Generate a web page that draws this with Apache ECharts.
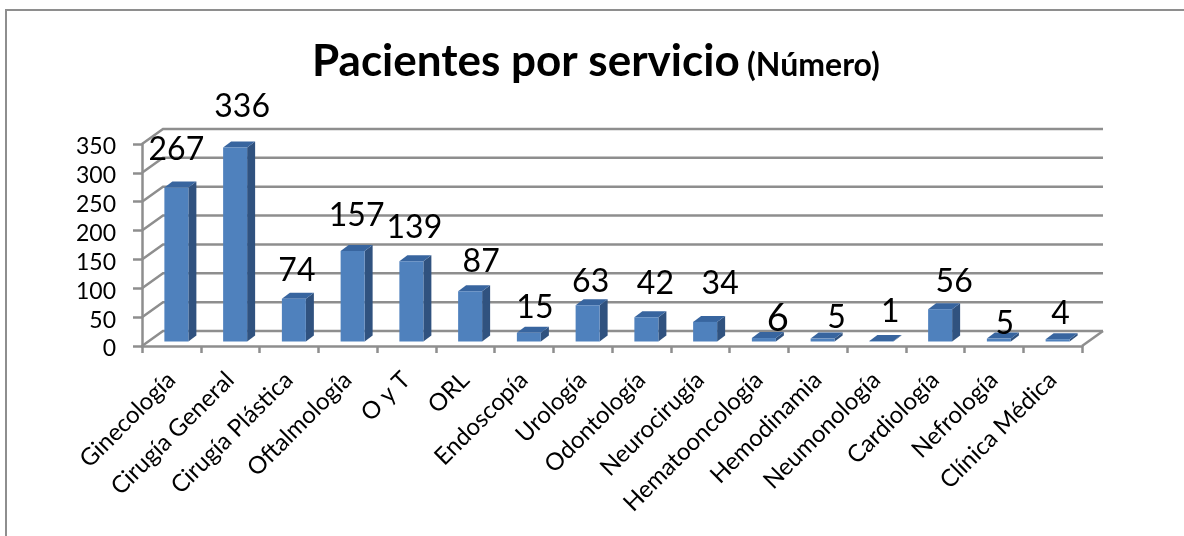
<!DOCTYPE html>
<html><head><meta charset="utf-8">
<style>html,body{margin:0;padding:0;background:#fff}#c{width:1184px;height:536px}</style>
<script src="https://cdn.jsdelivr.net/npm/echarts@6/dist/echarts.min.js"></script>
</head><body><div id="c"></div>
<script>
const categories = ['Ginecología','Cirugía General','Cirugía Plástica','Oftalmología','O y T','ORL','Endoscopía','Urología','Odontología','Neurocirugía','Hematooncología','Hemodinamia','Neumonología','Cardiología','Nefrología','Clínica Médica'];
const patients = [267,336,74,157,139,87,15,63,42,34,6,5,1,56,5,4];
const yTicks = [0,50,100,150,200,250,300,350];
const labelNudge = [[0,-11],[7,-14],[3,-1],[4,-8],[3,-7],[11,-3],[6,2],[3,4],[9,-7],[15,-11],[14,8],[14,6],[9,-2],[14,0],[6,12],[3,1]];
const labelSizes = [32,32,32,32,32,32,32,32,32,32,38,32,32,32,32,32];

const depthX = 21, depthY = -15;      // wall depth
const barShiftX = 5, barShiftY = -4.5; // bar sits inside the floor
const barDX = 8, barDY = -6, barW = 24;
const gray = '#8e8e8e';
const lineW = 2.5;

const chart = echarts.init(document.getElementById('c'), null, {renderer:'canvas'});
chart.setOption({
  animation:false,
  backgroundColor:'#fff',
  textStyle:{fontFamily:'Lato'},
  title:{
    left:312, top:40, padding:0,
    text:'{a|Pacientes por servicio} {b|(Número)}',
    textStyle:{rich:{
      a:{fontFamily:'Lato',fontWeight:'bold',fontSize:44,color:'#000'},
      b:{fontFamily:'Lato',fontWeight:'bold',fontSize:32,color:'#000',padding:[8,0,0,3]}
    }}
  },
  grid:{left:142,top:144,width:940,height:202},
  xAxis:{
    type:'category',data:categories,
    axisLine:{lineStyle:{color:gray,width:lineW}},
    axisTick:{show:true,length:7,lineStyle:{color:gray,width:lineW}},
    axisLabel:{rotate:45,interval:0,fontFamily:'Lato',fontSize:24,color:'#000',margin:30}
  },
  yAxis:{
    type:'value',min:0,max:350,interval:50,
    axisLine:{show:true,lineStyle:{color:gray,width:lineW}},
    axisTick:{show:true,length:9,lineStyle:{color:gray,width:lineW}},
    splitLine:{show:false},
    axisLabel:{fontFamily:'Lato',fontSize:23,color:'#000',margin:26,verticalAlign:'top',lineHeight:6}
  },
  graphic:[{type:'polyline',shape:{points:[[6,540],[6,10],[1190,10]]},style:{fill:'none',stroke:gray,lineWidth:2},silent:true,z:-10}],
  series:[
    {
      type:'custom',coordinateSystem:'cartesian2d',silent:true,z:1,clip:false,
      data:yTicks.map(v=>[0,v]),
      encode:{x:0,y:1},
      renderItem(params,api){
        const v=api.value(1);
        const p=api.coord([0,v]);
        const cs=params.coordSys;
        const x0=cs.x, xr=cs.x+cs.width, y=p[1];
        const style={stroke:gray,lineWidth:lineW,fill:'none'};
        const pts=[[xr+depthX,y+depthY],[x0+depthX,y+depthY],[x0,y]];
        const children=[{type:'polyline',shape:{points:pts},style}];
        if(v===0) children.push({type:'line',shape:{x1:xr,y1:y,x2:xr+depthX,y2:y+depthY},style});
        return {type:'group',children};
      }
    },
    {
      type:'custom',coordinateSystem:'cartesian2d',silent:true,z:3,clip:false,
      data:patients.map((v,i)=>[i,v]),
      encode:{x:0,y:1},
      renderItem(params,api){
        const i=api.value(0), v=api.value(1);
        const base=api.coord([i,0]), top=api.coord([i,v]);
        const l=base[0]+barShiftX-barW/2, r=l+barW;
        const b=base[1]+barShiftY, t=top[1]+barShiftY;
        const dx=barDX, dy=barDY;
        const n=labelNudge[i];
        return {type:'group',children:[
          {type:'polygon',shape:{points:[[r,b],[r+dx,b+dy],[r+dx,t+dy],[r,t]]},style:{fill:'#30527f'}},
          {type:'polygon',shape:{points:[[l,t],[r,t],[r+dx,t+dy],[l+dx,t+dy]]},style:{fill:'#38659f'}},
          {type:'rect',shape:{x:l,y:t,width:barW,height:b-t},style:{fill:'#4f81bd'}},
          {type:'text',z2:10,style:{x:base[0]+barShiftX+n[0],y:t-27+n[1],text:String(v),fontFamily:'Lato',fontSize:labelSizes[i],fill:'#000',align:'center',verticalAlign:'middle'}}
        ]};
      }
    }
  ]
});
</script></body></html>
